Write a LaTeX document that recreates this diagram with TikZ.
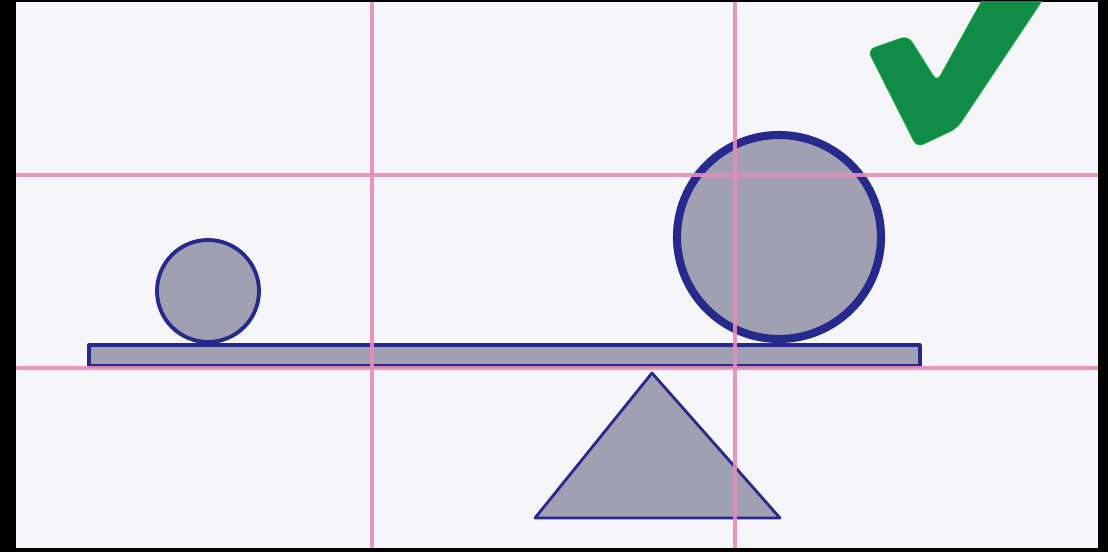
\documentclass[tikz,border=0pt]{standalone}
\usepackage{tikz}
\usetikzlibrary{positioning}
\definecolor{paper}{RGB}{246,245,249}
\definecolor{pinkline}{RGB}{232,140,182}
\definecolor{inkblue}{RGB}{38,42,140}
\definecolor{shadegray}{RGB}{160,160,178}
\definecolor{tickgreen}{RGB}{16,140,70}
\tikzset{
  gridln/.style={draw=pinkline,line width=1pt,opacity=0.9},
  solid/.style={fill=shadegray,draw=inkblue,line join=round},
  ball/.style={solid,line width=1.1pt},
  bigball/.style={solid,line width=2.3pt},
  tick/.style={fill=tickgreen,draw=tickgreen!80!green,line width=0.3pt,rounded corners=2pt}
}
\begin{document}
\begin{tikzpicture}[x=0.01cm,y=-0.01cm]
  \useasboundingbox (0,0) rectangle (1108,552);
  % Frame and paper
  \fill[black] (0,0) rectangle (1108,552);
  \fill[paper] (16,2) rectangle (1098,548);

  % Plank
  \draw[solid,line width=0.9pt] (89,345) rectangle (920,366);

  % Fulcrum
  \coordinate (apex) at (652,373);
  \coordinate (bl) at (535,518);
  \coordinate (br) at (780,518);
  \draw[solid,line width=0.8pt] (apex) -- (bl) -- (br) -- cycle;

  % Balls
  \draw[ball] (208,291) circle (51);
  \draw[bigball] (779,237) circle (102);

  % Grid lines
  \foreach \gx in {372,735}
    \draw[gridln] (\gx,2) -- (\gx,548);
  \foreach \gy in {175,368}
    \draw[gridln] (16,\gy) -- (1098,\gy);

  % Check mark, cut by the top edge
  \begin{scope}
    \clip (16,2) rectangle (1098,548);
    \fill[tick] (868,50) -- (908,36) -- (937,82) -- (988,-10) -- (1049,-10)
      -- (957,128) -- (917,147) -- cycle;
  \end{scope}
\end{tikzpicture}
\end{document}
